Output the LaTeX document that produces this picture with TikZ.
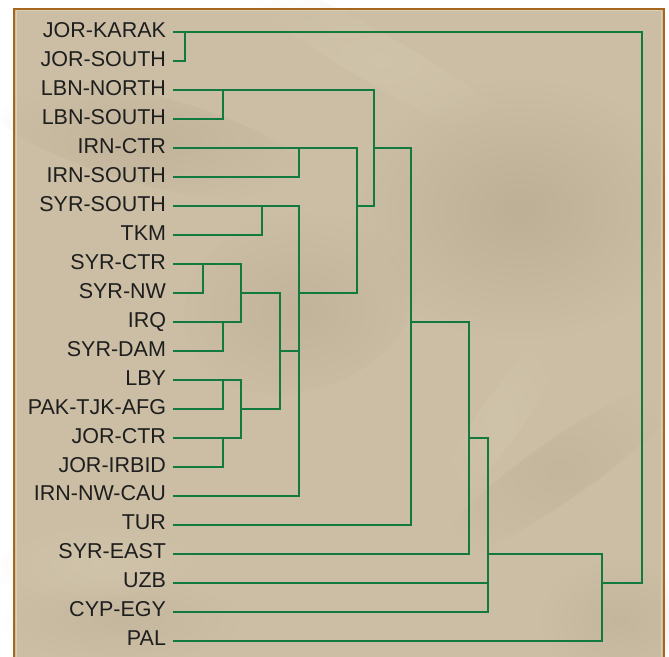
\documentclass[tikz,border=0pt]{standalone}
\usepackage{fontspec}
\setmainfont{Liberation Sans}
\usetikzlibrary{fadings}
\definecolor{bg}{HTML}{CBBEA4}
\definecolor{bgdark}{HTML}{A89A82}
\definecolor{bglight}{HTML}{DAD0B6}
\definecolor{framec}{HTML}{A6661E}
\definecolor{linkc}{HTML}{127A3E}
\definecolor{txt}{HTML}{1E1E1E}
\tikzfading[name=softblob,inner color=transparent!0,outer color=transparent!100]
\begin{document}
\begin{tikzpicture}[x=1pt,y=-1pt,
  leaf/.style={anchor=east,inner xsep=7pt,inner ysep=0pt,outer sep=0pt,
    text height=15pt,text depth=5pt,text=txt,font=\fontsize{21.5}{24}\selectfont},
  link/.style={draw=linkc,line width=2.1pt},
  blob/.style={fill=bgdark,path fading=softblob},
  glow/.style={fill=bglight,path fading=softblob}]
\useasboundingbox (0,0) rectangle (669,656);
\fill[white] (0,0) rectangle (669,656);
\fill[bg] (14,8) rectangle (665,662);
% background texture
\fill[blob,opacity=0.40] (520,210) ellipse (170 and 130);
\fill[blob,opacity=0.28,rotate around={-15:(150,140)}] (150,140) ellipse (170 and 45);
\fill[blob,opacity=0.28,rotate around={20:(300,300)}] (300,300) ellipse (120 and 90);
\fill[blob,opacity=0.22,rotate around={35:(560,470)}] (560,470) ellipse (150 and 30);
\fill[blob,opacity=0.22] (620,620) ellipse (80 and 60);
\fill[blob,opacity=0.18] (120,620) ellipse (120 and 40);
\fill[glow,opacity=0.30,rotate around={-30:(380,60)}] (380,60) ellipse (180 and 25);
\fill[glow,opacity=0.28,rotate around={55:(500,420)}] (500,420) ellipse (110 and 22);
\fill[glow,opacity=0.30,rotate around={10:(100,560)}] (100,560) ellipse (110 and 40);
% frame
\draw[bglight,line width=1pt] (16.5,662) -- (16.5,10.5) -- (661.8,10.5) -- (661.8,662);
\draw[framec,line width=2pt] (14.2,664) -- (14.2,8.5) -- (664.3,8.5) -- (664.3,664);
% leaves
\foreach \n [count=\i from 0] in {JOR-KARAK,JOR-SOUTH,LBN-NORTH,LBN-SOUTH,IRN-CTR,IRN-SOUTH,SYR-SOUTH,TKM,SYR-CTR,SYR-NW,IRQ,SYR-DAM,LBY,PAK-TJK-AFG,JOR-CTR,JOR-IRBID,IRN-NW-CAU,TUR,SYR-EAST,UZB,CYP-EGY,PAL}
  \node[leaf] (l\i) at (173,{32.3+28.98*\i}) {\n};
% cluster output points
\path (l0.east -| 185,0) coordinate (A);
\path (l2.east -| 222.7,0) coordinate (B);
\path (l4.east -| 299,0) coordinate (C);
\path (l6.east -| 261.7,0) coordinate (D);
\path (l8.east -| 203.3,0) coordinate (E);
\path (l10.east -| 222.7,0) coordinate (F);
\path (l9.east -| 241,0) coordinate (G);
\path (l12.east -| 222.7,0) coordinate (H);
\path (l14.east -| 222.7,0) coordinate (I);
\path (l13.east -| 241,0) coordinate (J);
\path (l11.east -| 280,0) coordinate (K);
\path (l9.east -| 299,0) coordinate (L);
\path (l6.east -| 356.7,0) coordinate (M);
\path (l4.east -| 374.3,0) coordinate (N);
\path (l10.east -| 411,0) coordinate (O);
\path (l14.east -| 469.3,0) coordinate (P);
\path (l18.east -| 487.7,0) coordinate (Q);
\path (l19.east -| 602.3,0) coordinate (R);
\path (l19.east -| 641.7,0) coordinate (Root);
% links
\draw[link] (l0.east) -- (A |- l0.east) -- (A |- l1.east) -- (l1.east);
\draw[link] (l2.east) -- (B |- l2.east) -- (B |- l3.east) -- (l3.east);
\draw[link] (l4.east) -- (C |- l4.east) -- (C |- l5.east) -- (l5.east);
\draw[link] (l6.east) -- (D |- l6.east) -- (D |- l7.east) -- (l7.east);
\draw[link] (l8.east) -- (E |- l8.east) -- (E |- l9.east) -- (l9.east);
\draw[link] (l10.east) -- (F |- l10.east) -- (F |- l11.east) -- (l11.east);
\draw[link] (E) -- (G |- E) -- (G |- F) -- (F);
\draw[link] (l12.east) -- (H |- l12.east) -- (H |- l13.east) -- (l13.east);
\draw[link] (l14.east) -- (I |- l14.east) -- (I |- l15.east) -- (l15.east);
\draw[link] (H) -- (J |- H) -- (J |- I) -- (I);
\draw[link] (G) -- (K |- G) -- (K |- J) -- (J);
\draw[link] (D) -- (L |- D) -- (L |- l16.east) -- (l16.east);
\draw[link] (K) -- (L |- K);
\draw[link] (C) -- (M |- C) -- (M |- L) -- (L);
\draw[link] (B) -- (N |- B) -- (N |- M) -- (M);
\draw[link] (N) -- (O |- N) -- (O |- l17.east) -- (l17.east);
\draw[link] (O) -- (P |- O) -- (P |- l18.east) -- (l18.east);
\draw[link] (P) -- (Q |- P) -- (Q |- l20.east) -- (l20.east);
\draw[link] (l19.east) -- (Q |- l19.east);
\draw[link] (Q) -- (R |- Q) -- (R |- l21.east) -- (l21.east);
\draw[link] (A) -- (Root |- A) -- (Root) -- (R);
\end{tikzpicture}
\end{document}
